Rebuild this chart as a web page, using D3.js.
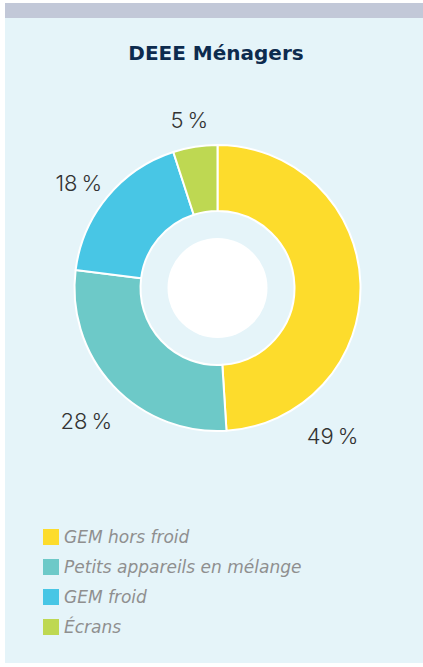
<!DOCTYPE html>
<html>
<head>
<meta charset="utf-8">
<script src="https://cdnjs.cloudflare.com/ajax/libs/d3/7.8.5/d3.min.js"></script>
<style>
  html, body { margin: 0; padding: 0; background: #ffffff; }
  svg { display: block; }
</style>
</head>
<body>
<div id="chart"></div>
<script>
// chart data
var categories = ["GEM hors froid", "Petits appareils en mélange", "GEM froid", "Écrans"];
var values = [49, 28, 18, 5];
var colors = ["#fddc2c", "#6dc9c8", "#48c6e5", "#bed852"];
var title = "DEEE Ménagers";

var svgWidth = 423;
var svgHeight = 667;

var cx = 217.5;
var cy = 288;
var outerRadius = 143;
var innerRadius = 77;
var holeRadius = 50;
var labelRadius = 180;

var svg = d3.select("#chart").append("svg")
    .attr("width", svgWidth)
    .attr("height", svgHeight);

// panel + top bar
svg.append("rect")
    .attr("x", 5).attr("y", 3)
    .attr("width", svgWidth - 5).attr("height", 660)
    .attr("fill", "#e5f4f9");
svg.append("rect")
    .attr("x", 5).attr("y", 3)
    .attr("width", svgWidth - 5).attr("height", 15)
    .attr("fill", "#c2c8d8");

svg.append("text")
    .attr("x", 216)
    .attr("y", 60)
    .attr("text-anchor", "middle")
    .style("font-family", "'DejaVu Sans', sans-serif")
    .style("font-weight", "700")
    .style("font-size", "20px")
    .style("fill", "#0d2b4e")
    .text(title);

var g = svg.append("g")
    .attr("transform", "translate(" + cx + "," + cy + ")");

var pie = d3.pie().sort(null).value(function(d) { return d; });
var arcs = pie(values);

var arc = d3.arc()
    .innerRadius(innerRadius)
    .outerRadius(outerRadius);

g.selectAll(".slice")
    .data(arcs)
    .enter().append("path")
    .attr("class", "slice")
    .attr("d", arc)
    .attr("fill", function(d, i) { return colors[i]; })
    .attr("stroke", "#ffffff")
    .attr("stroke-width", 2)
    .attr("stroke-linejoin", "round");

g.append("circle")
    .attr("r", holeRadius)
    .attr("fill", "#ffffff");

// labels: centroid direction, the big slice pulled toward its end
function labelAngle(d) {
    var mid = (d.startAngle + d.endAngle) / 2;
    if (d.endAngle - d.startAngle > Math.PI * 0.9) return d.endAngle - 0.63;
    return mid;
}

g.selectAll(".pct")
    .data(arcs)
    .enter().append("text")
    .attr("class", "pct")
    .attr("x", function(d) { return labelRadius * Math.sin(labelAngle(d)); })
    .attr("y", function(d) { return -labelRadius * Math.cos(labelAngle(d)) + 10; })
    .attr("dy", "0.36em")
    .attr("text-anchor", "middle")
    .style("font-family", "Inter, sans-serif")
    .style("font-weight", "300")
    .style("font-size", "22px")
    .style("fill", "#333333")
    .text(function(d) { return d.data + "\u2009%"; });

// legend
var legend = svg.append("g")
    .attr("transform", "translate(43,529)");

var item = legend.selectAll(".item")
    .data(categories)
    .enter().append("g")
    .attr("class", "item")
    .attr("transform", function(d, i) { return "translate(0," + (i * 30) + ")"; });

item.append("rect")
    .attr("width", 16).attr("height", 16)
    .attr("fill", function(d, i) { return colors[i]; });

item.append("text")
    .attr("x", 21)
    .attr("y", 14)
    .style("font-family", "'DejaVu Sans', sans-serif")
    .style("font-style", "italic")
    .style("font-size", "17px")
    .style("fill", "#8f8f8f")
    .text(function(d) { return d; });
</script>
</body>
</html>
